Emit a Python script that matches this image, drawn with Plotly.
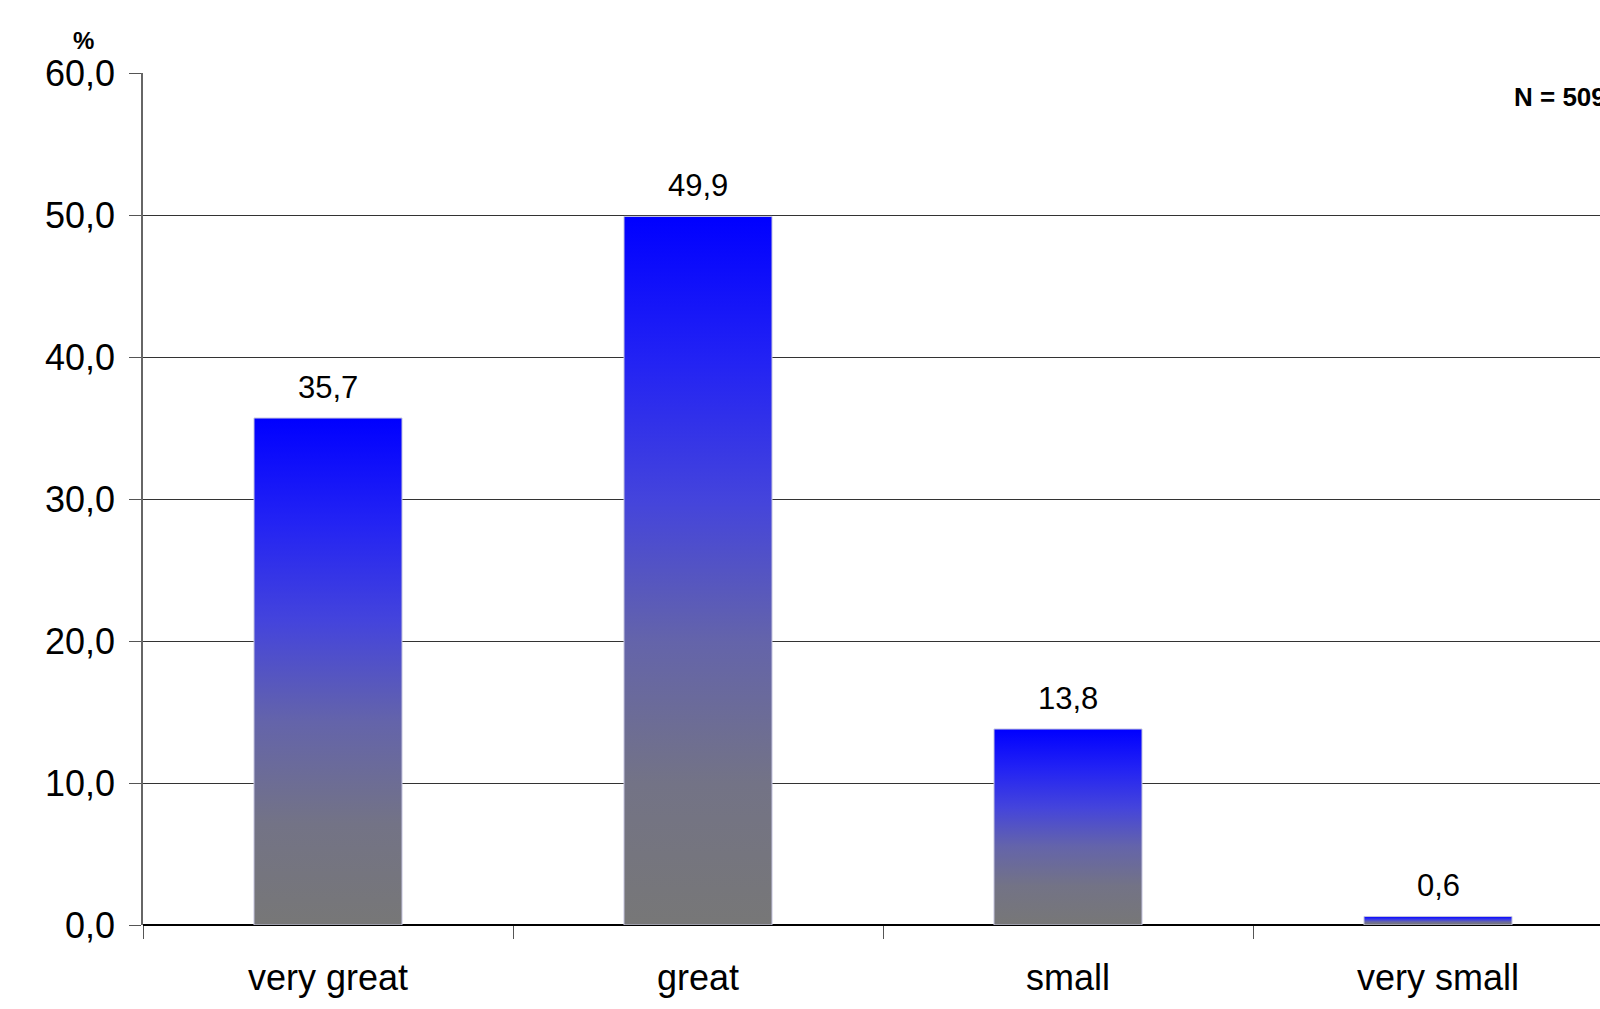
import plotly.graph_objects as go

categories = ["very great", "great", "small", "very small"]
values = [35.7, 49.9, 13.8, 0.6]
y_tick_vals = [0, 10, 20, 30, 40, 50, 60]
n_label = "N = 509"
unit_label = "%"

BAR_W = 0.4
FONT = "Liberation Sans, Arial, sans-serif"
grad = [[0.0, "#777777"], [0.2, "#737386"], [0.4, "#6464aa"],
        [0.6, "#4444dc"], [0.8, "#2222f4"], [1.0, "#0000ff"]]

fig = go.Figure()
for i, (c, v) in enumerate(zip(categories, values)):
    x0, x1 = i - BAR_W / 2, i + BAR_W / 2
    fig.add_trace(go.Scatter(
        x=[x0, x1, x1, x0, x0], y=[0, 0, v, v, 0],
        mode="lines", fill="toself",
        line=dict(width=1, color="#c4c4de"),
        fillgradient=dict(type="vertical", colorscale=grad, start=0, stop=v),
        hoverinfo="skip", showlegend=False, name=c,
    ))
    fig.add_annotation(x=i, y=v, text=f"{v:.1f}".replace(".", ","),
                       showarrow=False, yanchor="bottom", yshift=11,
                       font=dict(size=31, color="black", family=FONT))

W, H = 1600, 1009
L, T, B = 143, 73, 84
pw, ph = W - L, H - T - B
cat_px = 370.0
x_max = -0.5 + pw / cat_px

fig.add_annotation(xref="paper", yref="paper", x=(83 - L) / pw, y=(H - B - 41) / ph,
                   text=f"<b>{unit_label}</b>", showarrow=False,
                   xanchor="center", yanchor="middle",
                   font=dict(size=24, color="black", family=FONT))
fig.add_annotation(xref="paper", yref="paper", x=(1512 - L) / pw, y=(H - B - 97) / ph,
                   text=f"<b>{n_label}</b>", showarrow=False,
                   xanchor="left", yanchor="middle",
                   font=dict(size=26, color="black", family=FONT))

fig.update_layout(
    width=W, height=H, margin=dict(l=L, r=0, t=T, b=B, pad=0),
    paper_bgcolor="white", plot_bgcolor="white",
    separators=", ",
    font=dict(family=FONT, color="black"),
    xaxis=dict(
        range=[-0.5, x_max], tickvals=list(range(len(categories))), ticktext=categories,
        ticks="", showgrid=False, zeroline=False, showline=False,
        tickfont=dict(size=36, family=FONT, color="black"),
        ticklabelstandoff=28,
        minor=dict(tickvals=[i - 0.5 for i in range(len(categories) + 1)],
                   ticks="outside", ticklen=13, tickcolor="#555555", tickwidth=1,
                   showgrid=False),
        fixedrange=True,
    ),
    yaxis=dict(
        range=[0, 60], tickvals=y_tick_vals, tickformat=".1f",
        ticks="outside", ticklen=12, tickcolor="#555555",
        showgrid=True, gridcolor="#333333", gridwidth=1,
        zeroline=True, zerolinecolor="#000000", zerolinewidth=1.5,
        showline=True, linecolor="#666666", linewidth=1.5,
        tickfont=dict(size=36, family=FONT, color="black"),
        ticklabelstandoff=7,
        fixedrange=True,
    ),
)
fig.write_html("out.html")
